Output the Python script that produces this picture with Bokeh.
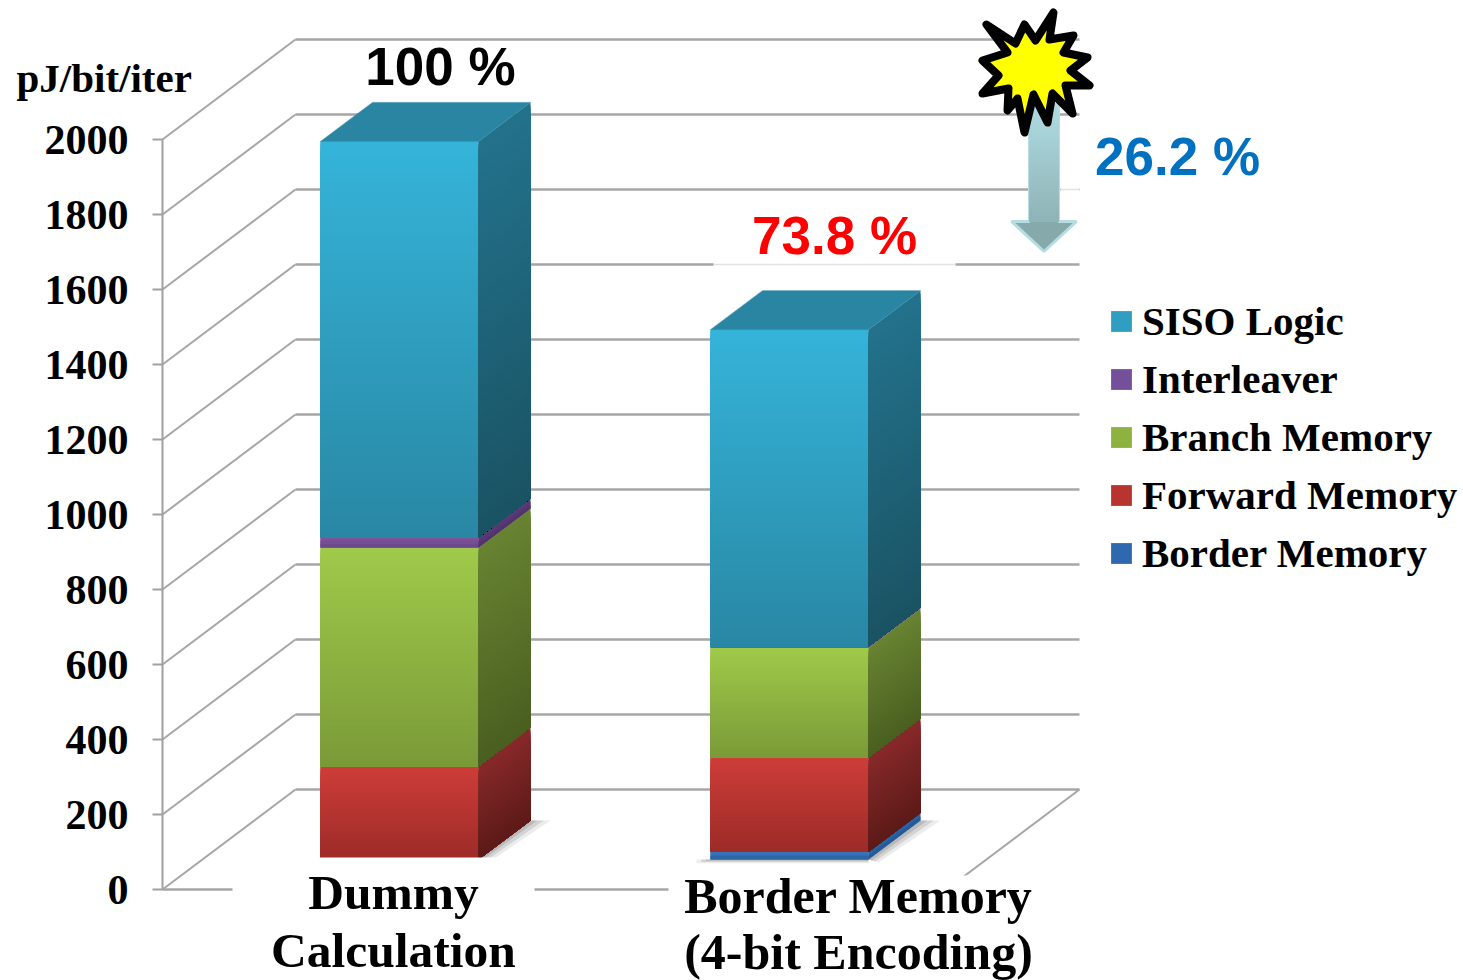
from bokeh.plotting import figure
from bokeh.embed import file_html
from bokeh.resources import INLINE
from bokeh.models import Range1d, FixedTicker, Legend, LegendItem
from bokeh.core.properties import value
import numpy as np

# Energy per bit per iteration, stacked bottom to top
categories = ["Dummy Calculation", "Border Memory (4-bit Encoding)"]
series_names = ["Border Memory", "Forward Memory", "Branch Memory", "Interleaver", "SISO Logic"]
border_memory = [0, 21]
forward_memory = [248, 251]
branch_memory = [584, 293]
interleaver = [27, 3]
siso_logic = [1056, 845]
tick_values = [0, 200, 400, 600, 800, 1000, 1200, 1400, 1600, 1800, 2000]
percent_labels = ["100 %", "73.8 %"]
reduction_label = "26.2 %"
category_lines = [["Dummy", "Calculation"], ["Border Memory", "(4-bit Encoding)"]]

series_values = [border_memory, forward_memory, branch_memory, interleaver, siso_logic]

# Colours per series: front top/bottom, side top/bottom, legend swatch
front_colors = [("#3A78C2", "#2A5F9E"), ("#CE3D38", "#9C2B28"), ("#A0CA4A", "#7A9A38"),
                ("#80569F", "#6A4589"), ("#35B4D9", "#2987A4")]
side_colors = [("#2C68AC", "#23558E"), ("#88292A", "#5C1A18"), ("#688332", "#4A5F20"),
               ("#5E3C7C", "#4E3268"), ("#23728C", "#1A5363")]
swatch_colors = ["#3068B0", "#B8342F", "#8DB240", "#75509A", "#2F9EC0"]
cap_color = "#2A85A3"
grid_color = "#A6A6A6"
serif = "Liberation Serif"
sans = "Liberation Sans"

# Layout of the drawing on the page
W, H = 1463, 980
AXIS_X = 162
FLOOR_PX = 889
PX_PER_UNIT = 0.375
WALL_DX = 133          # oblique depth of the chart box
WALL_DU = 100 / PX_PER_UNIT
BAR_DX = 52            # oblique depth of a bar
BAR_DU = 39 / PX_PER_UNIT
BAR_LIFT = 30 / PX_PER_UNIT
BAR_LEFT = [320, 710]
BAR_WIDTH = 158
WALL_RIGHT = 1079


def u(py):
    """Value on the energy scale that lands at a page row."""
    return (FLOOR_PX - py) / PX_PER_UNIT


def mix(c0, c1, t):
    a = [int(c0[i:i + 2], 16) for i in (1, 3, 5)]
    b = [int(c1[i:i + 2], 16) for i in (1, 3, 5)]
    return "#%02x%02x%02x" % tuple(int(round(a[k] + (b[k] - a[k]) * t)) for k in range(3))


p = figure(width=W, height=H, output_backend="svg", toolbar_location=None,
           x_range=Range1d(0, W), y_range=Range1d(u(H), u(0)),
           min_border_left=0, min_border_right=0, min_border_top=0, min_border_bottom=0,
           x_axis_type=None, background_fill_color="white", border_fill_color="white")
p.outline_line_color = None
p.grid.visible = False

axis = p.yaxis[0]
axis.fixed_location = AXIS_X
axis.ticker = FixedTicker(ticks=tick_values)
axis.bounds = (tick_values[0], tick_values[-1])
axis.minor_tick_line_color = None
axis.axis_line_color = "#A0A0A0"
axis.axis_line_width = 2
axis.major_tick_line_color = "#A0A0A0"
axis.major_tick_line_width = 2
axis.major_tick_out = 10
axis.major_tick_in = 0
axis.major_label_standoff = 24
axis.major_label_text_font = serif
axis.major_label_text_font_style = "bold"
axis.major_label_text_font_size = "42px"
axis.major_label_text_color = "black"

# Back wall rules and the oblique rules running out to the axis
back_left = AXIS_X + WALL_DX
p.multi_line([[back_left, WALL_RIGHT] for _ in tick_values],
             [[t + WALL_DU, t + WALL_DU] for t in tick_values],
             line_color=grid_color, line_width=2.5)
p.multi_line([[AXIS_X, back_left] for _ in tick_values],
             [[t, t + WALL_DU] for t in tick_values],
             line_color=grid_color, line_width=2)
# Floor: front edge and right edge
p.line([AXIS_X, WALL_RIGHT - WALL_DX], [0, 0], line_color=grid_color, line_width=2.5)
p.line([WALL_RIGHT - WALL_DX, WALL_RIGHT], [0, WALL_DU], line_color=grid_color, line_width=2)

# Washed-out stretches of two rules
for t, x0, x1 in [(1400, 713, 955), (1600, 1060, WALL_RIGHT)]:
    p.line([x0, x1], [t + WALL_DU, t + WALL_DU], line_color="white", line_width=4)
    p.line([x0, x1], [t + WALL_DU, t + WALL_DU], line_color="#C4C4C4", line_width=1.5, line_dash="1 1")

swatches = {}
for b, left in enumerate(BAR_LEFT):
    right = left + BAR_WIDTH
    # Soft contact shadow on the floor
    for grow, alpha in [(1.0, 0.10), (0.66, 0.14), (0.33, 0.18)]:
        sx = 20 * grow
        p.patch([right, right + BAR_DX, right + BAR_DX + sx, right + sx * 0.5],
                [BAR_LIFT, BAR_LIFT + BAR_DU, BAR_LIFT + BAR_DU, BAR_LIFT - 8 * grow],
                fill_color="#404040", fill_alpha=alpha, line_color=None)
        p.quad(left=[left - 14 * grow], right=[right], bottom=[BAR_LIFT - 10 * grow], top=[BAR_LIFT],
               fill_color="#404040", fill_alpha=alpha, line_color=None)

    base = BAR_LIFT
    for s, vals in enumerate(series_values):
        v = vals[b]
        top = base + v
        if v > 0:
            # Solid face first, carrying the series name for the key
            swatches[s] = p.quad(left=[left], right=[right], bottom=[base], top=[top],
                                 fill_color=swatch_colors[s], line_color=None)
            # Shaded strips painted downward, each one reaching the bottom of the block
            n = max(1, int(v * PX_PER_UNIT / 3))
            edges = np.linspace(top, base, n + 1)
            fc = [mix(*front_colors[s], (i + 0.5) / n) for i in range(n)]
            sc = [mix(*side_colors[s], (i + 0.5) / n) for i in range(n)]
            p.quad(left=[left] * n, right=[right] * n, top=edges[:-1], bottom=[base] * n,
                   fill_color=fc, line_color=None)
            p.patches([[right, right + BAR_DX, right + BAR_DX, right] for _ in range(n)],
                      [[base, base + BAR_DU, edges[i] + BAR_DU, edges[i]] for i in range(n)],
                      fill_color=sc, line_color=None)
        base = top
    # Lid of the column
    p.patch([left, left + BAR_DX, right + BAR_DX, right],
            [base, base + BAR_DU, base + BAR_DU, base],
            fill_color=cap_color, line_color=cap_color, line_width=0.5)

# Blank panels behind the category names
p.quad(left=[232, 668], right=[534, WALL_RIGHT], top=[u(857), u(875)], bottom=[u(H), u(H)],
       fill_color="white", line_color=None)

serif_bold = dict(text_font=value(serif), text_font_style="bold", text_baseline="middle", text_color="black")
p.text(x=[393, 393], y=[u(892), u(950)], text=category_lines[0], text_align="center",
       text_font_size="49.5px", **serif_bold)
p.text(x=[858, 858], y=[u(895), u(951)], text=category_lines[1], text_align="center",
       text_font_size="50px", **serif_bold)
p.text(x=[16], y=[u(77)], text=["pJ/bit/iter"], text_align="left", text_font_size="41px", **serif_bold)

pct_font = dict(text_font=value(sans), text_font_style="bold", text_font_size="53px",
                text_align="center", text_baseline="middle")
p.text(x=[440], y=[u(66)], text=[percent_labels[0]], text_color="black", **pct_font)
p.text(x=[834], y=[u(235)], text=[percent_labels[1]], text_color="#FF0000", **pct_font)
p.text(x=[1177], y=[u(156)], text=[reduction_label], text_color="#0070C0", **pct_font)

# Down arrow from the burst to the lower total
SHAFT = (1029, 1058)
HEAD = (1011, 1076)
rows = np.arange(104, 221, 3)
arrow_cols = [mix("#AEDBE1", "#8FB3B6", (r - 104) / 116) for r in rows[:-1]]
p.patch([SHAFT[0], SHAFT[1], SHAFT[1], HEAD[1], 1043.5, HEAD[0], SHAFT[0]],
        [u(104), u(104), u(221), u(221), u(251), u(221), u(221)],
        fill_color="#86A9AC", line_color="#B5DDE2", line_width=3)
p.quad(left=[SHAFT[0]] * len(arrow_cols), right=[SHAFT[1]] * len(arrow_cols),
       top=[u(r) for r in rows[:-1]], bottom=[u(221)] * len(arrow_cols),
       fill_color=arrow_cols, line_color=None)

# Explosion marker at the top of the arrow
burst_x = [986, 1015, 1024, 1035, 1053, 1049, 1073, 1063, 1087, 1070, 1089, 1065, 1072, 1052,
           1047, 1033, 1024, 1017, 1007, 1008, 982, 998, 982, 1007]
burst_y = [24, 43, 24, 40, 12, 39, 35, 52, 57, 70, 85, 85, 113, 93, 122, 94, 132, 98, 110, 88, 93, 75, 60, 52]
p.patch(burst_x, [u(y) for y in burst_y], fill_color="#FFFF00", line_color="black",
        line_width=8, line_join="round")

# Key, top entry first
legend = Legend(items=[LegendItem(label=series_names[s], renderers=[swatches[s]]) for s in range(4, -1, -1)],
                location=(1108, 403), padding=0, margin=0, spacing=10, glyph_width=26, glyph_height=26,
                label_standoff=8, border_line_color=None, background_fill_alpha=0,
                label_text_font=serif, label_text_font_style="bold", label_text_font_size="41px",
                label_text_color="black")
p.add_layout(legend)

open("out.html", "w").write(file_html(p, INLINE))
